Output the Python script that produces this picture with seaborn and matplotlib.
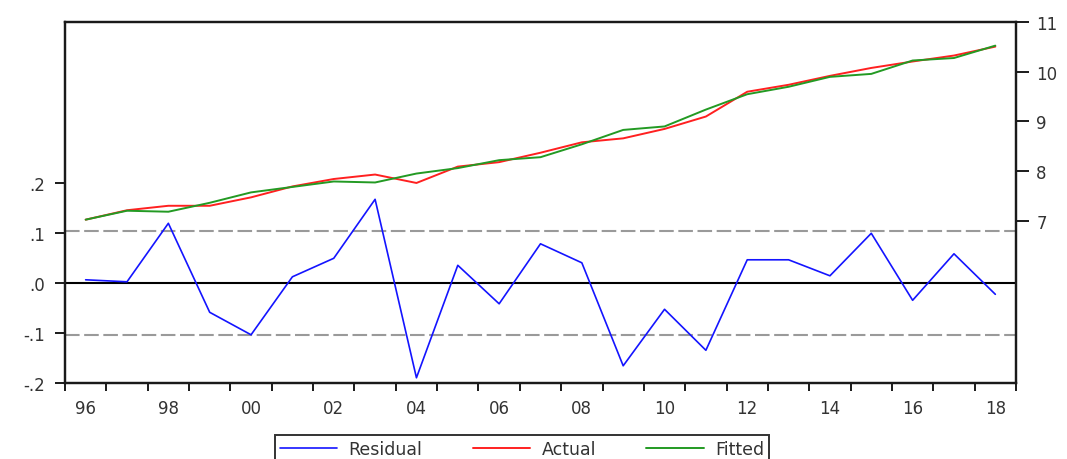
import matplotlib
matplotlib.use("Agg")
import matplotlib.pyplot as plt
import seaborn as sns
import pandas as pd
from matplotlib.ticker import FixedLocator, FixedFormatter, NullFormatter

# Annual series, 1996-2018
years = list(range(1996, 2019))
residual = [0.007, 0.003, 0.120, -0.058, -0.103, 0.013, 0.050, 0.168, -0.189,
            0.036, -0.041, 0.079, 0.041, -0.165, -0.052, -0.134, 0.047, 0.047,
            0.015, 0.100, -0.034, 0.059, -0.022]
actual = [7.02, 7.21, 7.30, 7.30, 7.47, 7.69, 7.84, 7.93, 7.76, 8.09, 8.18,
          8.37, 8.58, 8.66, 8.85, 9.10, 9.60, 9.74, 9.92, 10.08, 10.21, 10.33,
          10.51]
fitted = [7.02, 7.20, 7.18, 7.36, 7.57, 7.68, 7.79, 7.77, 7.95, 8.06, 8.22,
          8.28, 8.54, 8.83, 8.90, 9.24, 9.55, 9.70, 9.90, 9.96, 10.23, 10.28,
          10.53]
se_band = 0.104  # +/- one standard error of the regression

resid_ticks = [-0.2, -0.1, 0.0, 0.1, 0.2]
resid_labels = ["-.2", "-.1", ".0", ".1", ".2"]
level_ticks = [7, 8, 9, 10, 11]
level_labels = ["7", "8", "9", "10", "11"]
year_label_pos = list(range(1996, 2019, 2))
year_labels = ["96", "98", "00", "02", "04", "06", "08", "10", "12", "14", "16", "18"]

df = pd.DataFrame({"year": years, "Residual": residual,
                   "Actual": actual, "Fitted": fitted})

sns.set_style("white")
plt.rcParams["font.family"] = ["DejaVu Sans"]

TEXT = "#333333"
SPINE = "#1a1a1a"

fig = plt.figure(figsize=(10.67, 4.60), dpi=100)
ax = fig.add_axes([0.0609, 0.1646, 0.8913, 0.7847])
ax2 = ax.twinx()

# residual panel on the left scale
ax.axhline(0.0, color="black", lw=1.5, zorder=1)
for v in (se_band, -se_band):
    ax.axhline(v, color="#9a9a9a", lw=1.5, ls=(0, (7.0, 2.2)), zorder=1)
sns.lineplot(data=df, x="year", y="Residual", ax=ax, color="#1414ff",
             lw=1.2, label="Residual", zorder=3)

# actual vs fitted on the right scale
sns.lineplot(data=df, x="year", y="Actual", ax=ax2, color="#ff2020",
             lw=1.4, label="Actual")
sns.lineplot(data=df, x="year", y="Fitted", ax=ax2, color="#239a23",
             lw=1.4, label="Fitted")

ax.set_xlim(1995.5, 2018.5)
ax.set_ylim(-0.2, 0.522)
ax2.set_ylim(3.72, 11.0)

# x axis: ticks at year boundaries, labels centred on even years
ax.xaxis.set_major_locator(FixedLocator(year_label_pos))
ax.xaxis.set_major_formatter(FixedFormatter(year_labels))
ax.xaxis.set_minor_locator(FixedLocator([y - 0.5 for y in years] + [years[-1] + 0.5]))
ax.xaxis.set_minor_formatter(NullFormatter())
ax.tick_params(axis="x", which="major", length=0, pad=11, labelsize=12,
               labelcolor=TEXT)
ax.tick_params(axis="x", which="minor", length=6, width=1.4, color=SPINE,
               direction="out", bottom=True)

ax.yaxis.set_major_locator(FixedLocator(resid_ticks))
ax.yaxis.set_major_formatter(FixedFormatter(resid_labels))
ax.tick_params(axis="y", which="major", length=7.5, width=1.4, color=SPINE,
               direction="out", left=True, pad=7, labelsize=12, labelcolor=TEXT)

ax2.yaxis.set_major_locator(FixedLocator(level_ticks))
ax2.yaxis.set_major_formatter(FixedFormatter(level_labels))
ax2.tick_params(axis="y", which="major", length=9.5, width=1.4, color=SPINE,
                direction="out", right=True, pad=5, labelsize=12, labelcolor=TEXT)

for a in (ax, ax2):
    a.set_xlabel("")
    a.set_ylabel("")
    a.grid(False)
    for s in a.spines.values():
        s.set_visible(True)
        s.set_color(SPINE)
        s.set_linewidth(1.6)
ax2.patch.set_visible(False)

# combined legend below the plot
h1, l1 = ax.get_legend_handles_labels()
h2, l2 = ax2.get_legend_handles_labels()
ax.get_legend().remove()
ax2.get_legend().remove()
leg = fig.legend(h1 + h2, l1 + l2, loc="upper center", ncol=3,
                 bbox_to_anchor=(522 / 1067, 1 - 436 / 460),
                 bbox_transform=fig.transFigure, frameon=True, fancybox=False,
                 edgecolor="black", fontsize=12.5, handlelength=3.3,
                 handletextpad=0.65, columnspacing=2.9, borderpad=0.3,
                 borderaxespad=0)
leg.get_frame().set_linewidth(1.4)
for t in leg.get_texts():
    t.set_color(TEXT)

fig.savefig("out.png", dpi=100)
